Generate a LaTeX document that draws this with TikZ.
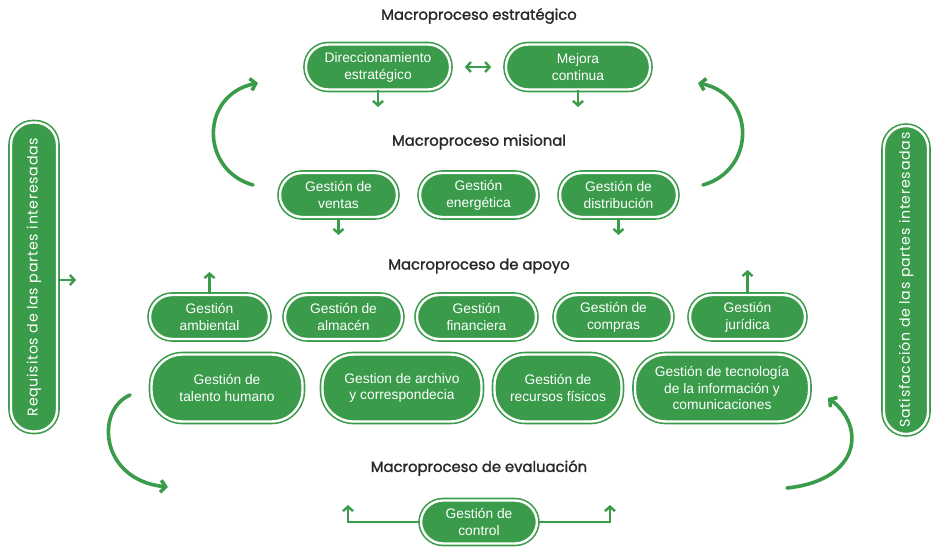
\documentclass[tikz,border=0pt]{standalone}
\usepackage{fontspec}
\setmainfont{Liberation Sans}
\newfontfamily\titlefont[FakeBold=1.6]{Poppins}
\newfontfamily\sidefont[LetterSpace=5]{Poppins}
\usetikzlibrary{arrows.meta}
\definecolor{gr}{RGB}{58,155,74}
\definecolor{tx}{RGB}{40,40,40}
\tikzset{
  box/.style={fill=gr, draw=gr, line width=1.6pt, double=white, double distance=2.4pt,
    rounded corners=22pt, text=white, align=center, inner sep=0pt,
    font=\fontsize{13.8}{17}\selectfont},
  boxb/.style={box, rounded corners=31pt, font=\fontsize{13.8}{16.5}\selectfont},
  sidebox/.style={box, rotate=90, font=\sidefont\fontsize{14.2}{15}\selectfont, rounded corners=22pt},
  ttl/.style={text=tx, font=\titlefont\fontsize{14.8}{16}\selectfont},
  conn/.style={draw=gr, line width=2.4pt, -{Straight Barb[length=4.5pt,width=10pt,line width=2.4pt]}},
  conn2/.style={draw=gr, line width=2.4pt, {Straight Barb[length=4.5pt,width=10pt,line width=2.4pt]}-{Straight Barb[length=4.5pt,width=10pt,line width=2.4pt]}},
  curv/.style={draw=gr, line width=3.6pt, line cap=round, -{Straight Barb[length=5pt,width=12pt,line width=3.6pt]}}
}
\begin{document}
\begin{tikzpicture}[x=1pt,y=-1pt]
\useasboundingbox (0,0) rectangle (934,548);
% titles
\node[ttl] (t1) at (479,16) {Macroproceso estratégico};
\node[ttl] (t2) at (479,142) {Macroproceso misional};
\node[ttl] (t3) at (479,266) {Macroproceso de apoyo};
\node[ttl] (t4) at (479,468) {Macroproceso de evaluación};
% strategic
\node[box, minimum width=144pt, minimum height=45pt] (dir) at (378,67) {Direccionamiento\\estratégico};
\node[box, minimum width=144pt, minimum height=45pt] (mej) at (578,67) {Mejora\\continua};
% misional
\node[box, minimum width=117pt, minimum height=44pt] (ven) at (338.5,195) {Gestión de\\ventas};
\node[box, minimum width=117pt, minimum height=44pt] (ene) at (478.5,195) {Gestión\\energética};
\node[box, minimum width=117pt, minimum height=44pt] (dis) at (618.5,195) {Gestión de\\distribución};
% apoyo row 1
\node[box, minimum width=119pt, minimum height=44pt] (amb) at (209.5,317) {Gestión\\ambiental};
\node[box, minimum width=117pt, minimum height=44pt] (alm) at (343.5,317) {Gestión de\\almacén};
\node[box, minimum width=119pt, minimum height=44pt] (fin) at (476.5,317) {Gestión\\financiera};
\node[box, minimum width=117pt, minimum height=44pt] (com) at (613.5,317) {Gestión de\\compras};
\node[box, minimum width=115pt, minimum height=44pt] (jur) at (747.5,317) {Gestión\\jurídica};
% apoyo row 2
\node[boxb, minimum width=151pt, minimum height=67pt] (tal) at (227,388) {Gestión de\\talento humano};
\node[boxb, minimum width=159pt, minimum height=67pt] (arc) at (402,388) {Gestion de archivo\\y correspondecia};
\node[boxb, minimum width=127pt, minimum height=67pt] (rec) at (558,388) {Gestión de\\recursos físicos};
\node[boxb, minimum width=174pt, minimum height=67pt] (tic) at (722,388) {Gestión de tecnología\\de la información y\\comunicaciones};
% evaluacion
\node[box, minimum width=116pt, minimum height=43pt] (con) at (479,522) {Gestión de\\control};
% side boxes
\node[sidebox, minimum width=309pt, minimum height=46pt] (req) at (34,277) {Requisitos de las partes interesadas};
\node[sidebox, minimum width=308pt, minimum height=44pt] (sat) at (906,280) {Satisfacción de las partes interesadas};
% coordinates
\coordinate (dirE) at (378,107);
\coordinate (mejE) at (578,107);
\coordinate (venE) at (338.5,235);
\coordinate (disE) at (618.5,235);
\coordinate (ambE) at (209.5,272);
\coordinate (jurE) at (747.5,270);
\coordinate (conL) at (348,522);
\coordinate (conLE) at (348,505);
\coordinate (conR) at (610,522);
\coordinate (conRE) at (610,505);
\coordinate (reqE) at (76,280);
% connectors
\draw[conn] (dir.south) -- (dirE);
\draw[conn] (mej.south) -- (mejE);
\draw[conn] (ven.south) -- (venE);
\draw[conn] (dis.south) -- (disE);
\draw[conn] (amb.north) -- (ambE);
\draw[conn] (jur.north) -- (jurE);
\draw[conn2, shorten <=14pt, shorten >=14pt] (dir.east) -- (mej.west);
\draw[conn] (con.west) -- (conL) -- (conLE);
\draw[conn] (con.east) -- (conR) -- (conRE);
\draw[conn] (req.south |- reqE) -- (reqE);
% curved arrows
\coordinate (a1s) at (253,185); \coordinate (a1e) at (258,83);
\coordinate (a2s) at (703,185); \coordinate (a2e) at (698,83);
\coordinate (a3s) at (130,395); \coordinate (a3e) at (168,487);
\coordinate (a4s) at (787,488); \coordinate (a4e) at (828,398);
\draw[curv] (a1s) .. controls (200,170) and (200,95) .. (a1e);
\draw[curv] (a2s) .. controls (756,170) and (756,95) .. (a2e);
\draw[curv] (a3s) .. controls (95,410) and (100,480) .. (a3e);
\draw[curv] (a4s) .. controls (862,480) and (865,425) .. (a4e);
\end{tikzpicture}
\end{document}
